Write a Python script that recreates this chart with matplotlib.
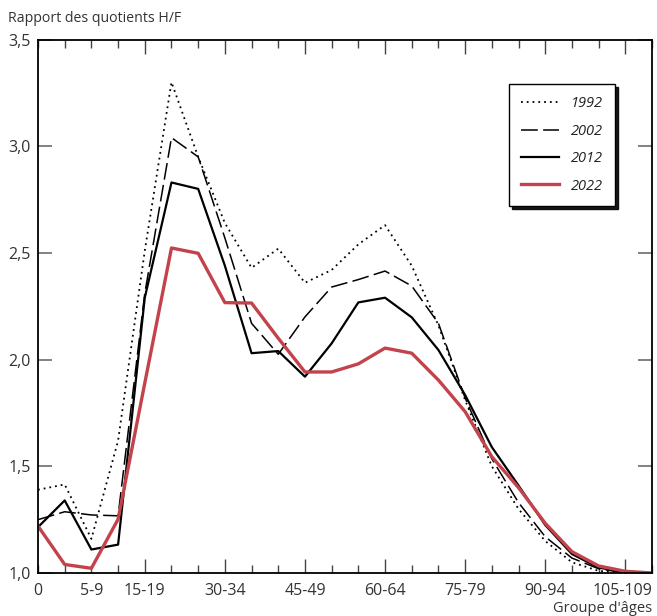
import matplotlib
matplotlib.use("Agg")
import matplotlib.pyplot as plt
import numpy as np

plt.rcParams['font.family'] = ['Open Sans', 'DejaVu Sans']

categories = ["0", "1-4", "5-9", "10-14", "15-19", "20-24", "25-29", "30-34", "35-39",
              "40-44", "45-49", "50-54", "55-59", "60-64", "65-69", "70-74", "75-79",
              "80-84", "85-89", "90-94", "95-99", "100-104", "105-109", "110+"]
shown_labels = ["0", "5-9", "15-19", "30-34", "45-49", "60-64", "75-79", "90-94", "105-109"]

r1992 = [1.39, 1.415, 1.16, 1.62, 2.51, 3.30, 2.95, 2.64, 2.43, 2.52, 2.36, 2.42, 2.54, 2.63,
         2.44, 2.16, 1.81, 1.50, 1.30, 1.15, 1.05, 1.01, 1.0, 0.995]
r2002 = [1.25, 1.287, 1.272, 1.268, 2.31, 3.04, 2.95, 2.57, 2.17, 2.025, 2.20, 2.34, 2.375, 2.415,
         2.345, 2.17, 1.82, 1.535, 1.33, 1.17, 1.07, 1.02, 1.0, 0.998]
r2012 = [1.215, 1.34, 1.11, 1.133, 2.29, 2.83, 2.80, 2.44, 2.03, 2.04, 1.92, 2.076, 2.268, 2.29,
         2.198, 2.045, 1.834, 1.59, 1.41, 1.225, 1.089, 1.025, 1.005, 1.0]
r2022 = [1.22, 1.04, 1.022, 1.252, 1.89, 2.523, 2.498, 2.267, 2.265, 2.10, 1.942, 1.942, 1.98, 2.054,
         2.03, 1.904, 1.756, 1.545, 1.40, 1.233, 1.10, 1.033, 1.008, 1.0]

yticks = [1.0, 1.5, 2.0, 2.5, 3.0, 3.5]

fig = plt.figure(figsize=(6.57, 6.16), dpi=100)
ax = fig.add_axes([38/657, 1-573/616, (652-38)/657, (573-39.5)/616])

x = np.arange(len(categories))
red = '#C3424C'
ax.plot(x, r1992, color='black', lw=1.3, linestyle=(0, (1.0, 2.2)), label='1992')
ax.plot(x, r2002, color='black', lw=1.1, linestyle=(0, (11, 3.5)), label='2002')
ax.plot(x, r2012, color='black', lw=1.6, label='2012')
ax.plot(x, r2022, color=red, lw=2.4, label='2022')

ax.set_xlim(0, len(categories)-1)
ax.set_ylim(1.0, 3.5)

ax.set_yticks(yticks)
ax.set_yticklabels([f"{v:.1f}".replace('.', ',') for v in yticks], fontsize=11.5, color='#333333')
ax.tick_params(axis='y', direction='in', length=10, width=1.3, color='#777777', pad=5,
               left=True, right=True)

# x ticks: every category, long ticks every 3 from 15-19
ax.set_xticks(x, minor=True)
major_idx = [i for i in range(len(categories)) if i >= 4 and (i - 4) % 3 == 0]
ax.set_xticks(major_idx)
ax.set_xticklabels([])
ax.tick_params(axis='x', which='minor', direction='in', length=6, width=1.0, color='#444444',
               top=True, bottom=True, labelbottom=False)
ax.tick_params(axis='x', which='major', direction='in', length=10, width=1.0, color='#444444',
               top=True, bottom=True, labelbottom=False)
for lab in shown_labels:
    i = categories.index(lab)
    if lab == shown_labels[-1]:
        ax.text(len(categories) - 1, -0.0185, lab, transform=ax.get_xaxis_transform(),
                ha='right', va='top', fontsize=11.5, color='#333333')
    else:
        ax.text(i, -0.0185, lab, transform=ax.get_xaxis_transform(), ha='center', va='top',
                fontsize=11.5, color='#333333')

for s in ax.spines.values():
    s.set_linewidth(1.3)
    s.set_color('black')

fig.text(8/657, 1-18/616, 'Rapport des quotients H/F', ha='left', va='center', fontsize=10.2,
         color='#333333')
fig.text(652/657, 1-608/616, "Groupe d'âges", ha='right', va='center', fontsize=10.5,
         color='#333333')

leg = ax.legend(loc='upper left', bbox_to_anchor=((509-38)/614, (573-84)/533.5),
                frameon=True, fancybox=False, shadow={'color': 'black', 'alpha': 0.9},
                fontsize=10.5, handlelength=2.6, handletextpad=0.8, labelspacing=0.85,
                borderpad=0.85, borderaxespad=0)
leg.get_frame().set_edgecolor('black')
leg.get_frame().set_linewidth(1.0)
for t in leg.get_texts():
    t.set_fontstyle('italic')
    t.set_color('#222222')

fig.savefig('out.png', dpi=100)
